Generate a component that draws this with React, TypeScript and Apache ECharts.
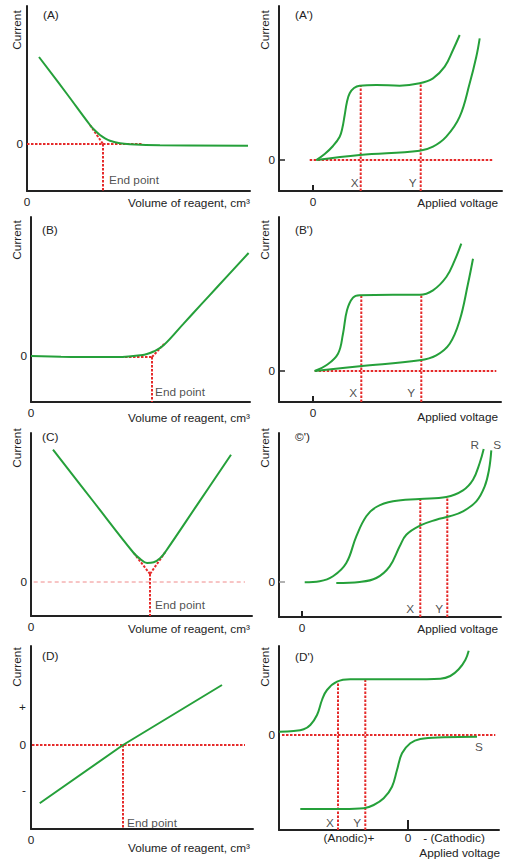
import React, { useEffect, useRef } from 'react';
import * as echarts from 'echarts';

// ---------------- data (arbitrary units) ----------------
// Panel A : current falls to zero
const aCurrent = [[12, 87], [40, 50], [63, 19], [68, 13.5], [73, 9], [78, 5.7], [83, 3.3], [93, 0.7], [103, -0.3], [133, -1.3], [221, -1.8]];
const aExtrapolation = [[63, 19], [76, 0]];
const aZeroLine = [[0, 0], [116, 0]];
const aEndPoint = 76;

// Panel A'
const a2Upper = [[3.3, 0], [11.7, 6], [20, 14], [26.7, 23.3], [29.3, 31.7], [31.7, 45], [34, 58.3], [36.7, 66.7], [41, 72], [46.7, 74.3], [63.3, 75], [86.7, 74.3], [106.7, 76.7], [120, 81.7], [131.7, 93.3], [140, 110], [146.7, 125]];
const a2Lower = [[3.3, 0], [46.7, 5], [106.7, 9.3], [120, 13.3], [133.3, 23.3], [146.7, 43.3], [156.7, 76.7], [163.3, 103.3], [166.7, 121.7]];
const a2ZeroLine = [[-3.3, 0], [180, 0]];
const a2Marks = [[47.7, 74.3], [107.7, 76.5]];

// Panel B : current rises after end point
const bCurrent = [[0, 0], [30, -0.8], [52.6, -1], [86, -1], [100, -0.3], [109.3, 0.7], [116, 2], [122.6, 4.5], [132.6, 10.7], [152.6, 32.4], [169.3, 50.6], [186, 68.7], [217.6, 103]];
const bBaseline = [[86, -1], [121, -1]];
const bExtrapolation = [[121, -1], [133, 12]];
const bEndPoint = 121;

// Panel B'
const b2Upper = [[1.7, 0], [13.3, 5.7], [25, 17.3], [30, 37.3], [34, 60.7], [40, 73.3], [46.7, 75.7], [80, 76.3], [106.7, 76.3], [120, 80.7], [133.3, 94], [141.7, 110.7], [148.3, 127.3]];
const b2Lower = [[1.7, 0], [46.7, 4.7], [106.7, 10.7], [123.3, 15.7], [136.7, 27.3], [146.7, 50.7], [155, 87.3], [160, 112.3]];
const b2ZeroLine = [[1.7, 0], [183.3, 0]];
const b2Marks = [[48.3, 75.7], [108.3, 76.5]];

// Panel C : V-shaped
const cCurrent = [[22, 132.3], [62, 81], [102.7, 29], [109.3, 23], [116, 19], [122.7, 19.7], [129.3, 24], [134.3, 30], [167, 78.4], [200, 127.3]];
const cLeftExtrapolation = [[102.7, 29], [119, 8]];
const cRightExtrapolation = [[134.3, 30], [119, 8]];
const cZeroLine = [[2.7, 0], [214, 0]];
const cEndPoint = [119, 8];

// Panel C'
const c2R = [[2.7, -0.3], [17.7, 0.7], [31, 5.7], [44.3, 19], [54.3, 45.7], [64.3, 65.7], [74.3, 75], [91, 80.7], [117.7, 83], [144.3, 85], [161, 91.7], [171, 102.3], [177.7, 119], [181.7, 133]];
const c2S = [[34.3, -1], [57.7, 0], [74.3, 4], [87.7, 15.7], [97.7, 35.7], [104.3, 47.3], [117.7, 56.3], [134.3, 62.3], [147.7, 65.7], [161, 70.7], [174.3, 80.7], [182.7, 95.7], [187, 112.3], [189.3, 131.7]];
const c2Marks = [[118.3, 83], [145.3, 85]];

// Panel D : current changes sign
const dCurrent = [[8.7, -58.3], [92, 0], [191, 60]];
const dZeroLine = [[1, 0], [214, 0]];
const dEndPoint = 92;
const dSignTicks = [38, 0, -45];

// Panel D'
const d2Upper = [[-128.7, 3.3], [-114.3, 4], [-104.3, 5.7], [-97.7, 10], [-91, 20], [-86, 35], [-81, 45], [-71, 53.3], [-57.7, 55.7], [-31, 55.7], [2.3, 55.7], [32.3, 56.3], [42.3, 59], [50.7, 65.7], [57.3, 75], [60.7, 84.3]];
const d2Lower = [[-107.7, -74], [-64.3, -74], [-44.3, -73.3], [-34.3, -70], [-24.3, -63.3], [-16, -51.7], [-11, -35], [-6, -18.3], [2.3, -8.3], [12.3, -4], [35.7, -2.3], [69, -1.7]];
const d2ZeroLine = [[-126, 0], [87.3, 0]];
const d2Marks = [[-70, 53.7], [-42.7, 55.7]];
const d2VoltageTicks = [-59, 0, 46];
const d2VoltageLabels = ['(Anodic)+', '0', '- (Cathodic)'];

const markNames = ['X', 'Y'];

// axis ranges per panel: [xmin, xmax, ymin, ymax]
const ranges = [
  [0, 223, -47, 138],
  [-34, 189, -31, 154],
  [0, 219, -46, 139],
  [-34, 188, -31, 154],
  [0, 221, -34, 149],
  [-23, 199, -35, 149],
  [0, 222, -84, 99],
  [-129, 91, -95, 89],
];

// ---------------- styling / layout ----------------
const GREEN = '#25a03a';
const RED = '#e52a2a';
const INK = '#222';
const FONT = '"Liberation Sans", Arial, sans-serif';
const FS = 11.8;

const grids = [
  { left: 27, top: 6, width: 223, height: 185 },
  { left: 279, top: 6, width: 223, height: 185 },
  { left: 31, top: 217, width: 219, height: 185 },
  { left: 279, top: 217, width: 222, height: 185 },
  { left: 31, top: 433, width: 221, height: 183 },
  { left: 279, top: 433, width: 222, height: 184 },
  { left: 31, top: 646, width: 222, height: 183 },
  { left: 279, top: 646, width: 220, height: 184 },
];

function buildOption() {
  const series: any[] = [];
  const green = (gi: number, data: number[][], smooth = 0.4) =>
    series.push({
      type: 'line', xAxisIndex: gi, yAxisIndex: gi, data, smooth, symbol: 'none',
      lineStyle: { color: GREEN, width: 2 }, z: 3, silent: true,
    });
  const red = (gi: number, data: number[][], thin = false) =>
    series.push({
      type: 'line', xAxisIndex: gi, yAxisIndex: gi, data, symbol: 'none',
      lineStyle: thin
        ? { color: '#f08a8a', width: 1, type: [4, 3] }
        : { color: RED, width: 2, type: [2.5, 1.5] },
      z: 2, silent: true,
    });
  const note = (gi: number, x: number, y: number, text: string, dx: number, dy: number) =>
    series.push({
      type: 'scatter', xAxisIndex: gi, yAxisIndex: gi, data: [[x, y]], symbolSize: 1,
      itemStyle: { color: 'rgba(0,0,0,0)' }, silent: true, z: 4,
      label: {
        show: true, position: 'inside', offset: [dx, dy], formatter: text,
        color: INK, fontSize: FS, fontFamily: FONT,
      },
    });

  // A
  green(0, aCurrent);
  red(0, aZeroLine);
  red(0, aExtrapolation);
  red(0, [[aEndPoint, 0], [aEndPoint, ranges[0][2]]]);
  note(0, aEndPoint, ranges[0][2], 'End point', 31, -11);

  // A'
  green(1, a2Upper);
  green(1, a2Lower);
  red(1, a2ZeroLine);
  a2Marks.forEach(([x, top], i) => {
    red(1, [[x, ranges[1][2]], [x, top]]);
    note(1, x, ranges[1][2], markNames[i], i === 0 ? -6 : -8, -8);
  });

  // B
  green(2, bCurrent);
  red(2, bBaseline);
  red(2, bExtrapolation);
  red(2, [[bEndPoint, -1], [bEndPoint, ranges[2][2]]]);
  note(2, bEndPoint, ranges[2][2], 'End point', 28, -10);

  // B'
  green(3, b2Upper);
  green(3, b2Lower);
  red(3, b2ZeroLine);
  b2Marks.forEach(([x, top], i) => {
    red(3, [[x, ranges[3][2]], [x, top]]);
    note(3, x, ranges[3][2], markNames[i], i === 0 ? -8 : -10, -9);
  });

  // C
  green(4, cCurrent);
  red(4, cZeroLine, true);
  red(4, cLeftExtrapolation);
  red(4, cRightExtrapolation);
  red(4, [cEndPoint, [cEndPoint[0], ranges[4][2]]]);
  note(4, cEndPoint[0], ranges[4][2], 'End point', 30, -11);

  // C'
  green(5, c2R);
  green(5, c2S);
  c2Marks.forEach(([x, top], i) => {
    red(5, [[x, ranges[5][2]], [x, top]]);
    note(5, x, ranges[5][2], markNames[i], i === 0 ? -10 : -8, -8);
  });
  note(5, c2R[c2R.length - 1][0], c2R[c2R.length - 1][1], 'R', -9, -4);
  note(5, c2S[c2S.length - 1][0], c2S[c2S.length - 1][1], 'S', 6, -5);

  // D
  green(6, dCurrent, 0);
  red(6, dZeroLine);
  red(6, [[dEndPoint, 0], [dEndPoint, ranges[6][2]]]);
  note(6, dEndPoint, ranges[6][2], 'End point', 29, -6);

  // D'
  green(7, d2Upper);
  green(7, d2Lower);
  red(7, d2ZeroLine);
  d2Marks.forEach(([x, top], i) => {
    red(7, [[x, ranges[7][2]], [x, top]]);
    note(7, x, ranges[7][2], markNames[i], -8, -7);
  });
  note(7, d2Lower[d2Lower.length - 1][0], d2Lower[d2Lower.length - 1][1], 'S', 2, 10);

  const axisLine = { show: true, onZero: false, lineStyle: { color: INK, width: 2 } };
  const labelStyle = { color: INK, fontSize: FS, fontFamily: FONT };

  const xAxis: any[] = ranges.map((r, gi) => {
    const left = gi % 2 === 0;
    const ax: any = {
      gridIndex: gi, type: 'value', min: r[0], max: r[1], axisLine,
      splitLine: { show: false }, axisTick: { show: false },
      axisLabel: { show: true, customValues: [0], formatter: () => '0', margin: 5, ...labelStyle },
    };
    if (!left) {
      ax.axisTick = { show: true, customValues: [0], inside: true, length: gi === 7 ? 10 : 6, lineStyle: { color: INK, width: 2 } };
    }
    if (gi === 7) {
      ax.axisLabel = {
        show: true, customValues: d2VoltageTicks, margin: 2, ...labelStyle,
        formatter: (v: number) => d2VoltageLabels[d2VoltageTicks.indexOf(v)] ?? '',
      };
    }
    return ax;
  });

  const yAxis: any[] = ranges.map((r, gi) => {
    const ax: any = {
      gridIndex: gi, type: 'value', min: r[2], max: r[3], axisLine,
      splitLine: { show: false }, axisTick: { show: false },
      axisLabel: { show: true, customValues: [0], formatter: () => '0', margin: 4, ...labelStyle },
    };
    if (gi === 1 || gi === 3 || gi === 5) {
      ax.axisTick = { show: true, customValues: [0], inside: true, length: 6, lineStyle: { color: gi === 5 ? '#999' : INK, width: 1.5 } };
    }
    if (gi === 6) {
      ax.axisLabel = {
        show: true, customValues: dSignTicks, margin: 5, ...labelStyle,
        formatter: (v: number) => (v > 0 ? '+' : v < 0 ? '-' : '0'),
      };
    }
    return ax;
  });

  const txt = (text: string, x: number, y: number, align = 'left', rotate = false) => ({
    type: 'text', x, y, rotation: rotate ? Math.PI / 2 : 0, silent: true,
    style: { text, fill: INK, font: `${FS}px ${FONT}`, align, verticalAlign: 'middle' },
  });

  const graphic: any[] = [
    txt('(A)', 43, 15), txt("(A')", 295, 15),
    txt('(B)', 42, 230), txt("(B')", 295, 230),
    txt('(C)', 42, 437), txt("©')", 295, 437),
    txt('(D)', 42, 656), txt("(D')", 295, 657),
    txt('Current', 17, 30, 'center', true), txt('Current', 265, 30, 'center', true),
    txt('Current', 17, 240, 'center', true), txt('Current', 265, 240, 'center', true),
    txt('Current', 17, 448, 'center', true), txt('Current', 265, 448, 'center', true),
    txt('Current', 17, 667, 'center', true), txt('Current', 265, 667, 'center', true),
    txt('Volume of reagent, cm³', 250, 203, 'right'),
    txt('Volume of reagent, cm³', 250, 418, 'right'),
    txt('Volume of reagent, cm³', 250, 629, 'right'),
    txt('Volume of reagent, cm³', 250, 848, 'right'),
    txt('Applied voltage', 498, 203, 'right'),
    txt('Applied voltage', 498, 417, 'right'),
    txt('Applied voltage', 498, 629, 'right'),
    txt('Applied voltage', 500, 853, 'right'),
  ];

  return {
    animation: false,
    backgroundColor: '#ffffff',
    grid: grids.map((g) => ({ ...g, containLabel: false, outerBoundsMode: 'none' })),
    xAxis,
    yAxis,
    series,
    graphic,
  };
}

export default function App() {
  const ref = useRef<HTMLDivElement>(null);
  useEffect(() => {
    if (!ref.current) return;
    const chart = echarts.init(ref.current, undefined, { renderer: 'svg' });
    chart.setOption(buildOption() as any);
    return () => chart.dispose();
  }, []);
  return (
    <div
      ref={ref}
      style={{ position: 'absolute', left: 0, top: 0, width: 527, height: 864, background: '#fff' }}
    />
  );
}
